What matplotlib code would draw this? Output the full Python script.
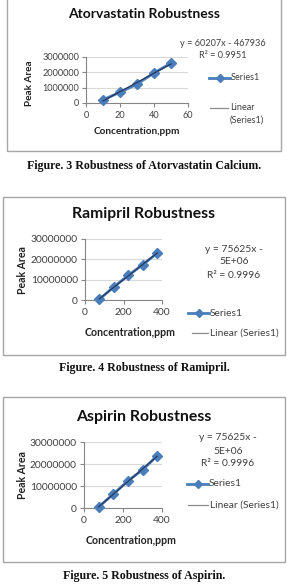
import numpy as np
import matplotlib
matplotlib.use("Agg")
import matplotlib.pyplot as plt
from matplotlib.lines import Line2D
from matplotlib.patches import Rectangle

W, H = 287, 587

# ---------------- data ----------------
atorva_conc = [10, 20, 30, 40, 50]
atorva_area = [210000, 700000, 1230000, 1960000, 2600000]

ramipril_conc = [75, 150, 225, 300, 375]
ramipril_area = [350000, 6500000, 12100000, 17400000, 23000000]

aspirin_conc = [75, 150, 225, 300, 375]
aspirin_area = [450000, 6300000, 12300000, 17300000, 23700000]

titles = ["Atorvastatin Robustness", "Ramipril Robustness", "Aspirin Robustness"]
captions = ["Figure. 3 Robustness of Atorvastatin Calcium.",
            "Figure. 4 Robustness of Ramipril.",
            "Figure. 5 Robustness of Aspirin."]
equations = [["y = 60207x - 467936", "R\u00b2 = 0.9951"],
             ["y = 75625x -", "5E+06", "R\u00b2 = 0.9996"],
             ["y = 75625x -", "5E+06", "R\u00b2 = 0.9996"]]
xticks_list = [[0, 20, 40, 60], [0, 200, 400], [0, 200, 400]]
yticks_list = [[0, 1000000, 2000000, 3000000],
               [0, 10000000, 20000000, 30000000],
               [0, 10000000, 20000000, 30000000]]
ylabels_list = [["0", "1000000", "2000000", "3000000"],
                ["0", "10000000", "20000000", "30000000"],
                ["0", "10000000", "20000000", "30000000"]]
xlabel = "Concentration,ppm"
ylabel = "Peak Area"
series_name = "Series1"

# ---------------- layout (pixels) ----------------
FONT = "Lato"
SERIES_C = "#4A7EBB"
TREND_C = "#26385C"
GRID_C = "#D9D9D9"
AX_C = "#868686"
BOX_C = "#A6A6A6"

fig = plt.figure(figsize=(W / 100, H / 100), dpi=100)
fig.patch.set_facecolor("white")


def fx(x):
    return x / W


def fy(y):
    return 1 - y / H


def ftext(x, y, s, **kw):
    kw.setdefault("family", FONT)
    kw.setdefault("color", "#333333")
    fig.text(fx(x), fy(y), s, **kw)


panels = [
    dict(conc=atorva_conc, area=atorva_area,
         box=(7, -2, 281, 151), ax=(86, 188, 57, 103), xlim=(0, 60), ylim=(0, 3000000),
         title_xy=(144, 14), title_fs=10.0, tick_fs=6.6, xtick_y=117,
         xlab_xy=(137, 132), ylab_xy=(29, 83), lab_fs=7.2,
         eq_x=223, eq_y=[44, 55],
         leg1=(209, 230, 78), leg2=(210, 228, 108), leg2_text=["Linear", "(Series1)"], leg2_ty=[108, 120],
         cap_y=166),
    dict(conc=ramipril_conc, area=ramipril_area,
         box=(3, 197, 285, 355), ax=(85, 162, 239, 300), xlim=(0, 400), ylim=(0, 30000000),
         title_xy=(144, 214), title_fs=11.3, tick_fs=7.4, xtick_y=317,
         xlab_xy=(130, 333), ylab_xy=(23, 270), lab_fs=7.6,
         eq_x=234, eq_y=[250, 262, 276],
         leg1=(188, 209, 313), leg2=(192, 208, 333), leg2_text=["Linear (Series1)"], leg2_ty=[333],
         cap_y=368),
    dict(conc=aspirin_conc, area=aspirin_area,
         box=(3, 397, 285, 562), ax=(84, 162, 442, 508), xlim=(0, 400), ylim=(0, 30000000),
         title_xy=(144, 417), title_fs=11.4, tick_fs=7.4, xtick_y=523,
         xlab_xy=(131, 541), ylab_xy=(23, 475), lab_fs=7.6,
         eq_x=228, eq_y=[438, 452, 464],
         leg1=(187, 208, 484), leg2=(188, 208, 505), leg2_text=["Linear (Series1)"], leg2_ty=[505],
         cap_y=576),
]

for i, p in enumerate(panels):
    # outer chart frame
    bx0, by0, bx1, by1 = p["box"]
    fig.patches.append(Rectangle((fx(bx0), fy(by1)), fx(bx1) - fx(bx0), fy(by0) - fy(by1),
                                 transform=fig.transFigure, fill=False, edgecolor=BOX_C,
                                 linewidth=1.0, zorder=0))
    x0, x1, yt, yb = p["ax"]
    ax = fig.add_axes([fx(x0), fy(yb), fx(x1) - fx(x0), fy(yt) - fy(yb)])
    ax.set_xlim(*p["xlim"])
    ax.set_ylim(*p["ylim"])
    ax.set_facecolor("none")
    for s in ["top", "right"]:
        ax.spines[s].set_visible(False)
    for s in ["left", "bottom"]:
        ax.spines[s].set_color(AX_C)
        ax.spines[s].set_linewidth(0.8)
    ax.set_xticks(xticks_list[i])
    ax.set_xticklabels([str(t) for t in xticks_list[i]])
    ax.set_yticks(yticks_list[i])
    ax.set_yticklabels(ylabels_list[i])
    ax.yaxis.grid(True, color=GRID_C, linewidth=0.8)
    ax.set_axisbelow(True)
    ax.tick_params(axis="both", colors=AX_C, length=3, width=0.8, direction="out",
                   labelsize=p["tick_fs"], labelcolor="#404040")
    ax.tick_params(axis="y", pad=2)
    ax.tick_params(axis="x", pad=3)
    for lab in ax.get_xticklabels() + ax.get_yticklabels():
        lab.set_family(FONT)

    conc = np.array(p["conc"], dtype=float)
    area = np.array(p["area"], dtype=float)
    ax.plot(conc, area, color=SERIES_C, linewidth=2.0, marker="D", markersize=5.5,
            markerfacecolor=SERIES_C, markeredgecolor=SERIES_C, zorder=3, clip_on=False)
    slope, icpt = np.polyfit(conc, area, 1)
    ax.plot(conc, slope * conc + icpt, color=TREND_C, linewidth=0.9, zorder=4, clip_on=False)

    # titles / labels
    ftext(*p["title_xy"], titles[i], fontsize=p["title_fs"], weight="bold", color="#111111",
          ha="center", va="center")
    ftext(*p["xlab_xy"], xlabel, fontsize=p["lab_fs"], weight="bold", color="#222222",
          ha="center", va="center")
    ftext(*p["ylab_xy"], ylabel, fontsize=p["lab_fs"], weight="bold", color="#222222",
          ha="center", va="center", rotation=90)

    # trendline equation
    for s, yy in zip(equations[i], p["eq_y"]):
        ftext(p["eq_x"], yy, s, fontsize=p["tick_fs"], ha="center", va="center", color="#404040")

    # legend
    lx0, lx1, ly = p["leg1"]
    fig.lines.append(Line2D([fx(lx0), fx(lx1)], [fy(ly), fy(ly)], transform=fig.transFigure,
                            color=SERIES_C, linewidth=2.0))
    fig.lines.append(Line2D([fx((lx0 + lx1) / 2)], [fy(ly)], transform=fig.transFigure,
                            color=SERIES_C, marker="D", markersize=4))
    ftext(lx1 + 1, ly, series_name, fontsize=p["tick_fs"], ha="left", va="center", color="#404040")
    mx0, mx1, my = p["leg2"]
    fig.lines.append(Line2D([fx(mx0), fx(mx1)], [fy(my), fy(my)], transform=fig.transFigure,
                            color="#8C8C8C", linewidth=0.9))
    for s, yy in zip(p["leg2_text"], p["leg2_ty"]):
        ftext(mx1 + 2, yy, s, fontsize=p["tick_fs"], ha="left", va="center", color="#404040")

    # caption
    fig.text(fx(144), fy(p["cap_y"]), captions[i], family="Liberation Serif", weight="bold",
             fontsize=8.6, ha="center", va="center", color="#111111")

fig.savefig("out.png", dpi=100, facecolor="white")
